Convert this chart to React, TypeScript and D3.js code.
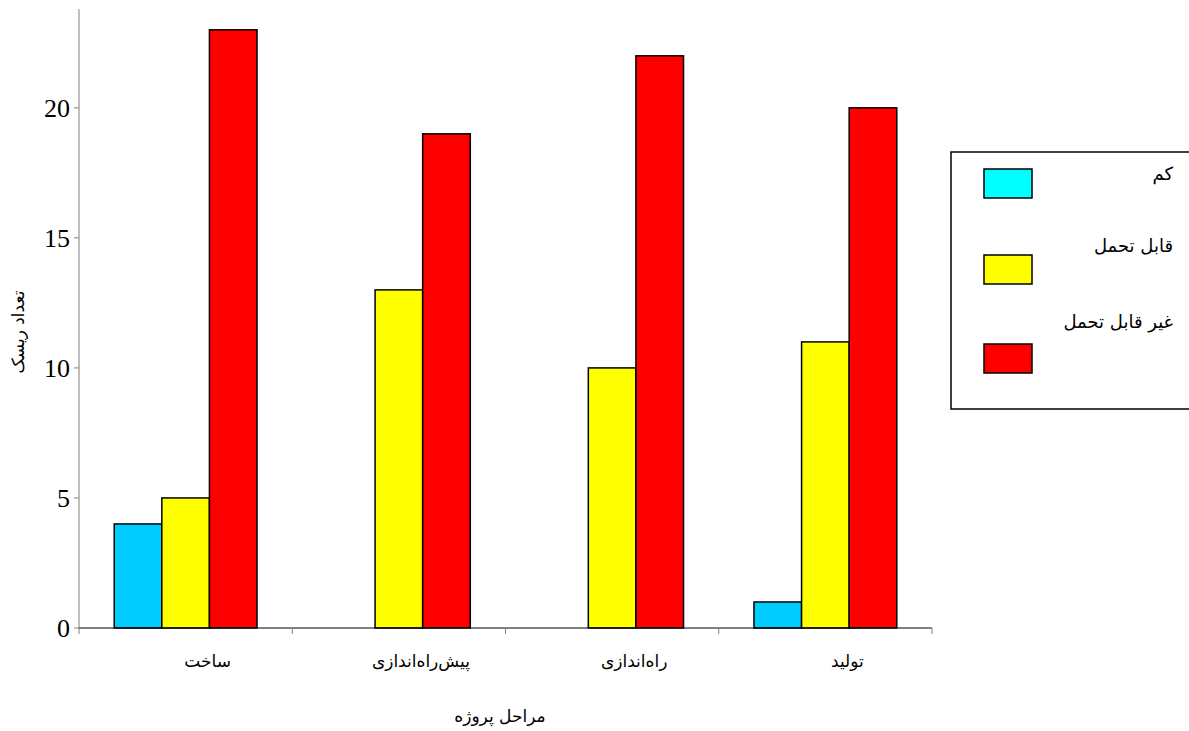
import React from "react";
import * as d3 from "d3";

const categories = ["ساخت", "پیش‌راه‌اندازی", "راه‌اندازی", "تولید"];
const seriesNames = ["کم", "قابل تحمل", "غیر قابل تحمل"];
const lowValues = [4, 0, 0, 1];
const tolerableValues = [5, 13, 10, 11];
const intolerableValues = [23, 19, 22, 20];
const yTicks = [0, 5, 10, 15, 20];
const barColors = ["#00CCFF", "#FFFF00", "#FF0000"];
const legendColors = ["#00FFFF", "#FFFF00", "#FF0000"];

const W = 1189, H = 731;
const left = 79, right = 932, top = 9, bottom = 628;
const persianFont = "'DejaVu Sans', 'Noto Sans', sans-serif";

export default function App() {
  const series = [lowValues, tolerableValues, intolerableValues];
  const x = d3.scaleBand<string>().domain(categories).range([left, right]).paddingInner(0).paddingOuter(0);
  const xInner = d3.scaleBand<number>().domain([0, 1, 2]).range([0, x.bandwidth()]).paddingInner(0).paddingOuter(0.74);
  const y = d3.scaleLinear().domain([0, 23.8]).range([bottom, top]);

  const bars: any[] = [];
  categories.forEach((c, ci) => {
    series.forEach((s, si) => {
      const v = s[ci];
      if (v <= 0) return;
      bars.push(
        <rect key={`${ci}-${si}`} x={(x(c) as number) + (xInner(si) as number)} y={y(v)}
          width={xInner.bandwidth()} height={y(0) - y(v)}
          fill={barColors[si]} stroke="#000" strokeWidth={1.5} />
      );
    });
  });

  const xTickPos = [...categories.map((c) => x(c) as number), right];

  return (
    <svg width={W} height={H} style={{ position: "absolute", left: 0, top: 0, background: "#fff" }}>
      {bars}
      <line x1={left} x2={left} y1={top} y2={bottom} stroke="#808080" strokeWidth={1} />
      {yTicks.map((t) => (
        <g key={t}>
          <line x1={left - 5} x2={left} y1={y(t)} y2={y(t)} stroke="#808080" />
          <text x={left - 9} y={y(t)} dy="0.35em" textAnchor="end" fontFamily="'Liberation Serif', serif" fontSize={26} fill="#000">{t}</text>
        </g>
      ))}
      <line x1={left} x2={right} y1={bottom} y2={bottom} stroke="#000" strokeWidth={1} />
      {xTickPos.map((p, i) => (
        <line key={i} x1={p} x2={p} y1={bottom} y2={bottom + 6} stroke="#808080" />
      ))}
      {categories.map((c) => (
        <text key={c} x={(x(c) as number) + x.bandwidth() / 2 + 22} y={667} textAnchor="middle" fontFamily={persianFont} fontSize={17} fill="#000" direction="rtl">{c}</text>
      ))}
      <text x={500} y={722} textAnchor="middle" fontFamily={persianFont} fontSize={17} fill="#000" direction="rtl">مراحل پروژه</text>
      <text transform={`translate(24,332) rotate(-90)`} textAnchor="middle" fontFamily={persianFont} fontSize={17} fill="#000" direction="rtl">تعداد ریسک</text>
      <rect x={951} y={152} width={260} height={257} fill="#fff" stroke="#000" strokeWidth={1.5} />
      {seriesNames.map((n, i) => {
        const sy = [169, 255, 344][i];
        const ty = [180, 252, 328][i];
        return (
          <g key={n}>
            <rect x={984} y={sy} width={48} height={29} fill={legendColors[i]} stroke="#000" strokeWidth={1.5} />
            <text x={1173} y={ty} textAnchor="start" fontFamily={persianFont} fontSize={18} fill="#000" direction="rtl">{n}</text>
          </g>
        );
      })}
    </svg>
  );
}
